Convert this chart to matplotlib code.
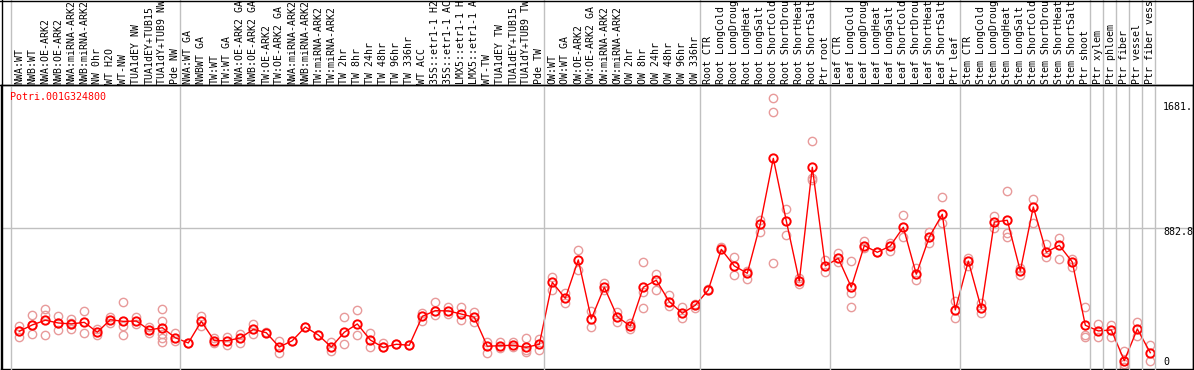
import matplotlib
matplotlib.use("Agg")
import matplotlib.pyplot as plt
from matplotlib.lines import Line2D
import matplotlib.transforms as mtransforms

# ---------------- data ----------------
gene_id = "Potri.001G324800"

# category labels as displayed (truncated to 14 characters in the reference)
categories = [
    "NWA:WT", "NWB:WT", "NWA:OE-ARK2", "NWB:OE-ARK2", "NWA:miRNA-ARK2",
    "NWB:miRNA-ARK2", "NW 0hr", "WT H2O", "WT-NW", "TUA1dEY NW",
    "TUA1dEY+TUB15", "TUA1dY+TUB9 NW", "Pde NW",
    "NWA:WT GA", "NWBWT GA", "TW:WT", "TW:WT GA", "NWA:OE-ARK2 GA",
    "NWB:OE-ARK2 GA", "TW:OE-ARK2", "TW:OE-ARK2 GA", "NWA:miRNA-ARK2",
    "NWB:miRNA-ARK2", "TW:miRNA-ARK2", "TW:miRNA-ARK2", "TW 2hr",
    "TW 8hr", "TW 24hr", "TW 48hr", "TW 96hr", "TW 336hr", "WT ACC",
    "35S::etr1-1 H2", "35S::etr1-1 AC", "LMX5::etr1-1 H",
    "LMX5::etr1-1 A", "WT-TW", "TUA1dEY TW", "TUA1dEY+TUB15",
    "TUA1dY+TUB9 TW", "Pde TW",
    "OW:WT", "OW:WT GA", "OW:OE-ARK2", "OW:OE-ARK2 GA", "OW:miRNA-ARK2",
    "OW:miRNA-ARK2", "OW 2hr", "OW 8hr", "OW 24hr", "OW 48hr",
    "OW 96hr", "OW 336hr",
    "Root CTR", "Root LongCold", "Root LongDroug", "Root LongHeat",
    "Root LongSalt", "Root ShortCold", "Root ShortDrou",
    "Root ShortHeat", "Root ShortSalt", "Ptr root",
    "Leaf CTR", "Leaf LongCold", "Leaf LongDroug", "Leaf LongHeat",
    "Leaf LongSalt", "Leaf ShortCold", "Leaf ShortDrou",
    "Leaf ShortHeat", "Leaf ShortSalt", "Ptr leaf",
    "Stem CTR", "Stem LongCold", "Stem LongDroug", "Stem LongHeat",
    "Stem LongSalt", "Stem ShortCold", "Stem ShortDrou",
    "Stem ShortHeat", "Stem ShortSalt", "Ptr shoot",
    "Ptr xylem", "Ptr phloem", "Ptr fiber", "Ptr vessel", "Ptr fiber vess",
]

mean_values = [
    247, 286, 315, 298, 292, 302, 241, 318, 308, 310, 255, 269, 207,
    175, 308, 189, 189, 206, 259, 238, 150, 189, 273, 224, 150, 241,
    292, 193, 148, 167, 161, 339, 374, 372, 353, 333, 155, 158, 161,
    148, 167,
    548, 450, 686, 323, 518, 337, 279, 518, 561, 429, 358, 407,
    501, 751, 649, 604, 907, 1311, 926, 556, 1256, 649,
    696, 518, 774, 733, 772, 887, 598, 827, 967, 378,
    679, 388, 919, 930, 618, 1012, 733, 776, 673, 284,
    249, 255, 66, 261, 115,
]

replicate_values = [
    [279, 214, 246], [347, 230, 285], [382, 347, 222], [341, 253, 300],
    [321, 259, 295], [372, 235], [259, 222], [333, 300],
    [425, 281, 222], [333, 292], [275, 235], [386, 308, 230, 204, 179],
    [238, 189],
    [176], [341, 279], [204, 173], [210, 163], [230, 177], [290, 230],
    [240], [185, 111], [190], [275], [225], [181, 127], [333, 169],
    [376, 222], [238, 148], [173, 150], [168], [161], [361, 310],
    [425, 347], [395, 351], [395, 316], [364, 306], [183, 115],
    [179, 142], [179, 148], [204, 132, 119], [199, 132],
    [583, 501], [481, 423], [747, 624], [372, 273], [542, 501],
    [367, 306], [296, 259], [671, 491, 388], [598, 501], [470, 403],
    [398, 331], [415, 392],
    [505], [767], [702, 593], [620, 567], [932, 860],
    [1681, 1595, 667], [999, 839], [573, 536], [1418, 1188, 1178],
    [686, 614],
    [731, 675], [678, 481, 395], [804, 758], [735], [788, 743],
    [963, 829], [635, 563], [860, 788], [1071, 915], [435, 327],
    [696, 649], [419, 361], [956, 881], [1110, 854, 829], [635, 593],
    [1059, 911], [782, 706], [819, 690], [692, 644],
    [398, 224, 214],
    [290, 214], [286, 214], [127, 29, 45], [302, 218], [161, 64],
]

# indices (0-based) after which a group separator is drawn
group_ends = [12, 40, 52, 62, 72, 82, 83, 84, 85, 86, 87]
y_labels = ["1681.", "882.8", "0"]
grid_value = 882.8

# ---------------- figure ----------------
W, H = 1194, 370
fig = plt.figure(figsize=(W / 100, H / 100), dpi=100)

def fx(px):
    return px / W

def fy(py):
    return 1 - py / H

top_px, bot_px = 85, 369
ax = fig.add_axes([fx(1), fy(bot_px), fx(1192), (bot_px - top_px) / H])

scale = 6.154      # value units per pixel
zero_px = 371.4    # pixel row of value 0
ax.set_ylim((zero_px - bot_px) * scale, (zero_px - top_px) * scale)
x0_px, col_w = 19.3, 13.0
ax.set_xlim((1 - x0_px) / col_w, (1193 - x0_px) / col_w)
ax.set_xticks([])
ax.set_yticks([])
for s in ax.spines.values():
    s.set_color("black")
    s.set_linewidth(1.0)

xs = list(range(len(categories)))

# horizontal gridline
ax.axhline(grid_value, color="#c0c0c0", lw=1.0, zorder=1)

# group separators (full height, through label area)
blend = mtransforms.blended_transform_factory(ax.transData, fig.transFigure)
seps = [-0.62] + [g + 0.38 for g in group_ends]
for s in seps:
    fig.add_artist(Line2D([s, s], [fy(bot_px), 1], transform=blend,
                          color="#c0c0c0", lw=1.0, zorder=1))

# replicates
rep_x, rep_y = [], []
for i, reps in enumerate(replicate_values):
    for v in reps:
        rep_x.append(i)
        rep_y.append(v)
ax.plot(rep_x, rep_y, linestyle="none", marker="o", ms=6, mfc="none",
        mec="#e89a9a", mew=1.0, zorder=2)

# mean line and markers
ax.plot(xs, mean_values, color="red", lw=1.0, marker="o", ms=6,
        mfc="none", mec="red", mew=1.4, zorder=3)

mono = "DejaVu Sans Mono"
fs = 7.1

# category labels (rotated)
for i, lab in enumerate(categories):
    xpx = x0_px + col_w * i
    fig.text(fx(xpx), fy(84), lab, rotation=90, ha="center", va="bottom",
             family=mono, fontsize=fs, color="black")

# title
fig.text(fx(10), fy(97), gene_id, ha="left", va="center",
         family=mono, fontsize=7.2, color="red")

# y labels
for lab, ypx in zip(y_labels, [107, 232, 362]):
    fig.text(fx(1163), fy(ypx), lab, ha="left", va="center",
             family=mono, fontsize=7.2, color="black")

# frame lines
fig.add_artist(Line2D([fx(0), fx(W)], [fy(top_px), fy(top_px)],
                      transform=fig.transFigure, color="black", lw=1.0))
fig.add_artist(Line2D([fx(0), fx(W)], [fy(0.5), fy(0.5)],
                      transform=fig.transFigure, color="black", lw=1.0))
fig.add_artist(Line2D([fx(1.5), fx(1.5)], [0, 1],
                      transform=fig.transFigure, color="black", lw=1.0))
fig.add_artist(Line2D([fx(1193), fx(1193)], [0, 1],
                      transform=fig.transFigure, color="black", lw=1.0))

fig.savefig("out.png", dpi=100)
